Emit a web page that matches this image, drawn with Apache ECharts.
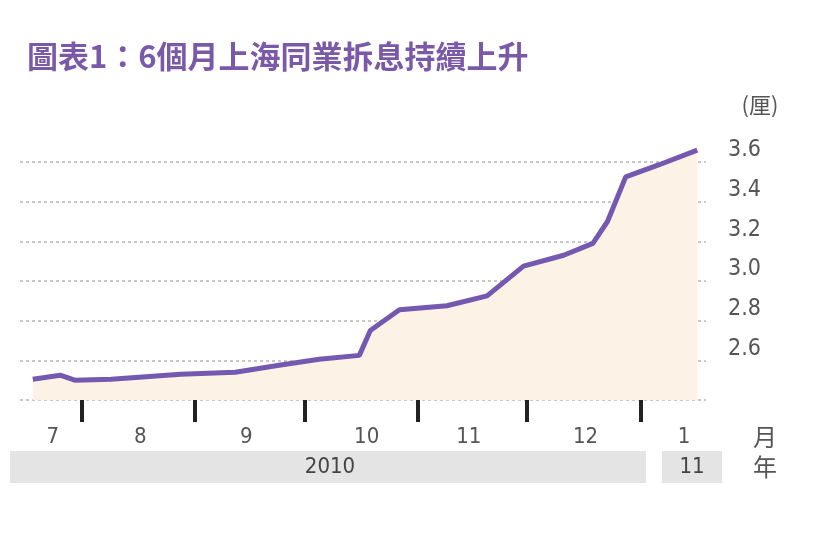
<!DOCTYPE html>
<html><head><meta charset="utf-8">
<script src="https://cdn.jsdelivr.net/npm/echarts@6/dist/echarts.min.js"></script>
<style>html,body{margin:0;padding:0;background:#fff}#c{width:824px;height:540px}</style>
</head><body><div id="c"></div>
<script>
const days  = [17.5,25,29,39,58,73,85,96,107,110,118,131,142,152,163,171,175,180,189,199.6];
const rates = [2.505,2.525,2.50,2.505,2.53,2.54,2.575,2.605,2.625,2.75,2.855,2.875,2.925,3.075,3.13,3.19,3.30,3.525,3.585,3.66];
const monthTicks = [31,62,92,123,153,184];
const monthLabelPos = [23,47,76,109,137,169,196];
const monthLabels = ['7','8','9','10','11','12','1'];
const yTicks = [2.6,2.8,3.0,3.2,3.4,3.6];
const chart = echarts.init(document.getElementById('c'));
const font = '"Liberation Sans Narrow","DejaVu Sans Condensed",sans-serif';
chart.setOption({
  animation:false,
  title:{text:'圖表1：6個月上海同業拆息持續上升',left:22,top:36,
    textStyle:{color:'#7a5aa8',fontSize:31,fontWeight:'bold',fontFamily:'"Noto Sans CJK TC",sans-serif'}},
  grid:{left:20,right:118,top:162,bottom:140},
  xAxis:[{type:'value',min:14,max:202,
    axisLine:{show:true,lineStyle:{opacity:0}},splitLine:{show:false},
    axisTick:{show:true,customValues:monthTicks,length:22,inside:false,lineStyle:{color:'#222',width:4,opacity:1}},
    axisLabel:{show:false}},
   {type:'value',min:14,max:202,position:'bottom',
    axisLine:{show:false},splitLine:{show:false},axisTick:{show:false},
    axisLabel:{customValues:monthLabelPos,margin:26,color:'#555',fontSize:22,fontFamily:font,
      formatter:v=>monthLabels[monthLabelPos.indexOf(v)]}}],
  yAxis:{type:'value',position:'right',min:2.4,max:3.6,interval:0.2,
    axisLine:{show:false},axisTick:{show:false},
    splitLine:{show:true,lineStyle:{color:'#c8c8c8',type:[3,3],width:2}},
    axisLabel:{customValues:yTicks,margin:22,verticalAlign:'bottom',color:'#555',fontSize:23,fontFamily:font,
      formatter:v=>v.toFixed(1)}},
  graphic:[
    {type:'rect',shape:{x:10,y:451,width:636,height:32},style:{fill:'#e4e4e4'}},
    {type:'rect',shape:{x:662,y:451,width:60,height:32},style:{fill:'#e4e4e4'}},
    {type:'text',x:330,y:467,style:{text:'2010',fill:'#444',font:'22px '+font,textAlign:'center',textVerticalAlign:'middle'}},
    {type:'text',x:692,y:467,style:{text:'11',fill:'#444',font:'22px '+font,textAlign:'center',textVerticalAlign:'middle'}},
    {type:'text',x:765,y:437,style:{text:'月',fill:'#555',font:'24px "Noto Sans CJK TC"',textAlign:'center',textVerticalAlign:'middle'}},
    {type:'text',x:765,y:467,style:{text:'年',fill:'#555',font:'24px "Noto Sans CJK TC"',textAlign:'center',textVerticalAlign:'middle'}},
    {type:'text',x:760,y:105,style:{text:'(厘)',fill:'#555',font:'22px "Noto Sans CJK TC"',textAlign:'center',textVerticalAlign:'middle'}}
  ],
  series:[{type:'line',clip:false,data:days.map((d,i)=>[d,rates[i]]),showSymbol:false,
    lineStyle:{color:'#7558b0',width:5},areaStyle:{color:'#fcf2e5',opacity:1}}]
});
</script></body></html>
